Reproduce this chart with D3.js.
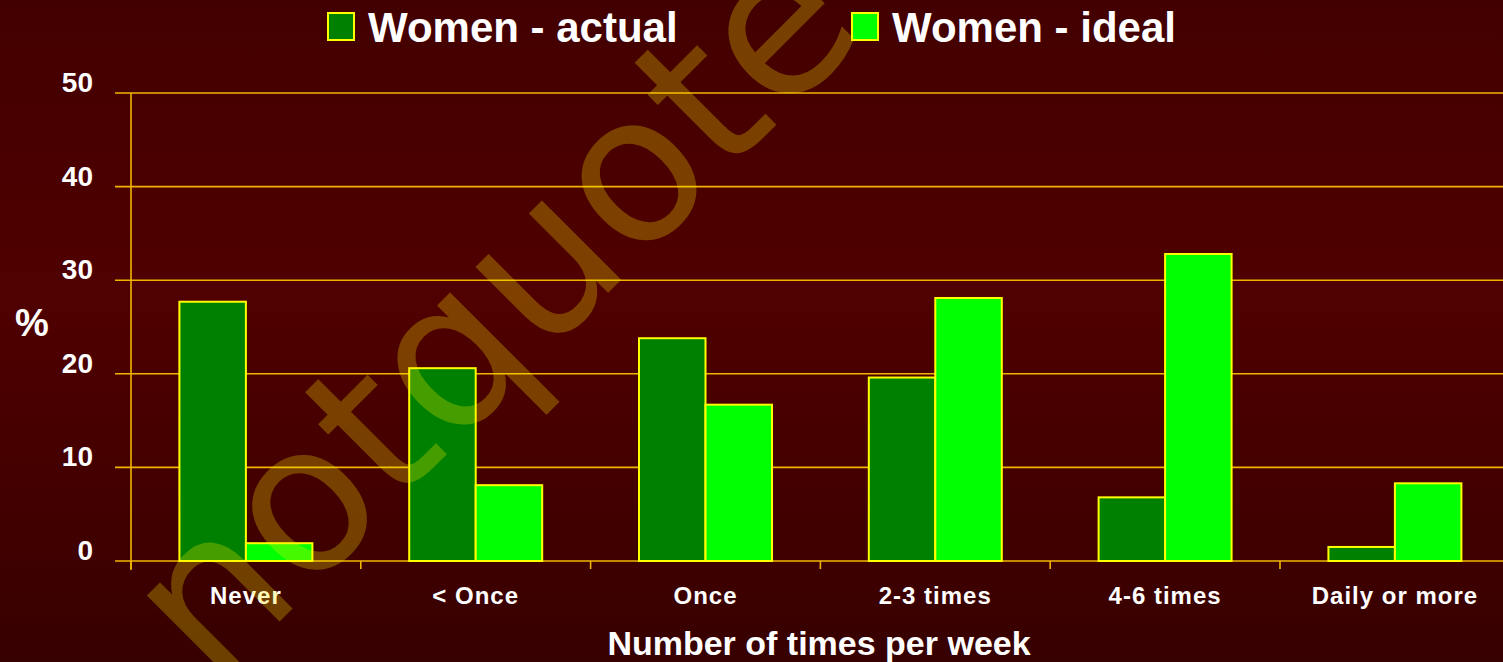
<!DOCTYPE html>
<html>
<head>
<meta charset="utf-8">
<script src="https://cdn.jsdelivr.net/npm/d3@7"></script>
<style>
  html, body { margin: 0; padding: 0; overflow: hidden; }
  svg { display: block; }
</style>
</head>
<body>
<div id="chart"></div>
<script>
document.addEventListener('DOMContentLoaded', () => {
    const categories = ['Never', '< Once', 'Once', '2-3 times', '4-6 times', 'Daily or more'];
    const series = ['Women - actual', 'Women - ideal'];
    const actual = [27.7, 20.6, 23.8, 19.6, 6.8, 1.5];
    const ideal = [1.9, 8.1, 16.7, 28.1, 32.8, 8.3];
    const yTicks = [0, 10, 20, 30, 40, 50];
    const colors = ['#008000', '#00ff00'];

    const width = 1503, height = 662;
    const left = 131, top = 93, bottom = 561, right = 131 + 229.8 * 6;
    const font = '"Liberation Sans", Arial, sans-serif';

    const svg = d3.select('#chart').append('svg')
        .attr('width', width)
        .attr('height', height);

    // background gradient
    const grad = svg.append('defs').append('linearGradient')
        .attr('id', 'bg').attr('x1', 0).attr('y1', 0).attr('x2', 0).attr('y2', 1);
    grad.append('stop').attr('offset', '0%').attr('stop-color', '#430000');
    grad.append('stop').attr('offset', '45%').attr('stop-color', '#500000');
    grad.append('stop').attr('offset', '100%').attr('stop-color', '#370000');
    svg.append('rect').attr('width', width).attr('height', height).attr('fill', 'url(#bg)');

    const x = d3.scaleBand().domain(categories).range([left, right]).paddingInner(0).paddingOuter(0);
    const xs = d3.scaleBand().domain(series).range([0, x.bandwidth()]).paddingOuter(0.728).paddingInner(0);
    const y = d3.scaleLinear().domain([0, 50]).range([bottom, top]);

    const gridColor = '#f0b400';

    // gridlines
    svg.append('g').selectAll('line').data(yTicks).join('line')
        .attr('x1', 115).attr('x2', width)
        .attr('y1', d => y(d)).attr('y2', d => y(d))
        .attr('stroke', gridColor).attr('stroke-width', 1.6);

    // y axis line
    svg.append('line')
        .attr('x1', left).attr('x2', left).attr('y1', top).attr('y2', bottom + 9)
        .attr('stroke', gridColor).attr('stroke-width', 1.6);

    // x category ticks
    const bounds = categories.map(c => x(c)).concat([right]);
    svg.append('g').selectAll('line').data(bounds).join('line')
        .attr('x1', d => d).attr('x2', d => d)
        .attr('y1', bottom).attr('y2', bottom + 8)
        .attr('stroke', gridColor).attr('stroke-width', 1.6);

    // y tick labels
    svg.append('g').selectAll('text').data(yTicks).join('text')
        .attr('x', 93).attr('y', d => y(d) - 1)
        .attr('text-anchor', 'end')
        .attr('fill', '#ffffff')
        .attr('font-family', font).attr('font-weight', 'bold').attr('font-size', 28)
        .text(d => d);

    // bars
    const rows = categories.map((c, i) => ({ cat: c, vals: [actual[i], ideal[i]] }));
    const groups = svg.append('g').selectAll('g').data(rows).join('g')
        .attr('transform', d => `translate(${x(d.cat)},0)`);
    groups.selectAll('rect').data(d => d.vals.map((v, j) => ({ s: series[j], v, j }))).join('rect')
        .attr('x', d => xs(d.s))
        .attr('width', xs.bandwidth())
        .attr('y', d => y(d.v))
        .attr('height', d => y(0) - y(d.v))
        .attr('fill', d => colors[d.j])
        .attr('stroke', '#ffff00').attr('stroke-width', 2);

    // category labels
    svg.append('g').selectAll('text').data(categories).join('text')
        .attr('x', d => x(d) + x.bandwidth() / 2)
        .attr('y', 604)
        .attr('text-anchor', 'middle')
        .attr('fill', '#ffffff')
        .attr('font-family', font).attr('font-weight', 'bold').attr('font-size', 24)
        .attr('letter-spacing', 1)
        .text(d => d);

    // axis titles
    svg.append('text')
        .attr('x', 819).attr('y', 655)
        .attr('text-anchor', 'middle')
        .attr('fill', '#ffffff')
        .attr('font-family', font).attr('font-weight', 'bold').attr('font-size', 34)
        .text('Number of times per week');
    svg.append('text')
        .attr('x', 32).attr('y', 336)
        .attr('text-anchor', 'middle')
        .attr('fill', '#ffffff')
        .attr('font-family', font).attr('font-weight', 'bold').attr('font-size', 38)
        .text('%');

    // legend
    const legendX = [328, 852];
    const legend = svg.append('g').selectAll('g').data(series).join('g')
        .attr('transform', (d, i) => `translate(${legendX[i]},0)`);
    legend.append('rect')
        .attr('x', 0).attr('y', 13).attr('width', 26).attr('height', 27)
        .attr('fill', (d, i) => colors[i])
        .attr('stroke', '#ffff00').attr('stroke-width', 2);
    legend.append('text')
        .attr('x', 40).attr('y', 42)
        .attr('fill', '#ffffff')
        .attr('font-family', font).attr('font-weight', 'bold').attr('font-size', 42)
        .text(d => d);

    // watermark
    svg.append('text')
        .attr('transform', 'translate(213,688) rotate(-45)')
        .attr('fill', '#ffee00').attr('fill-opacity', 0.27)
        .attr('font-family', '"DejaVu Sans", sans-serif').attr('font-size', 205)
        .text('notquote');
});
</script>
</body>
</html>
